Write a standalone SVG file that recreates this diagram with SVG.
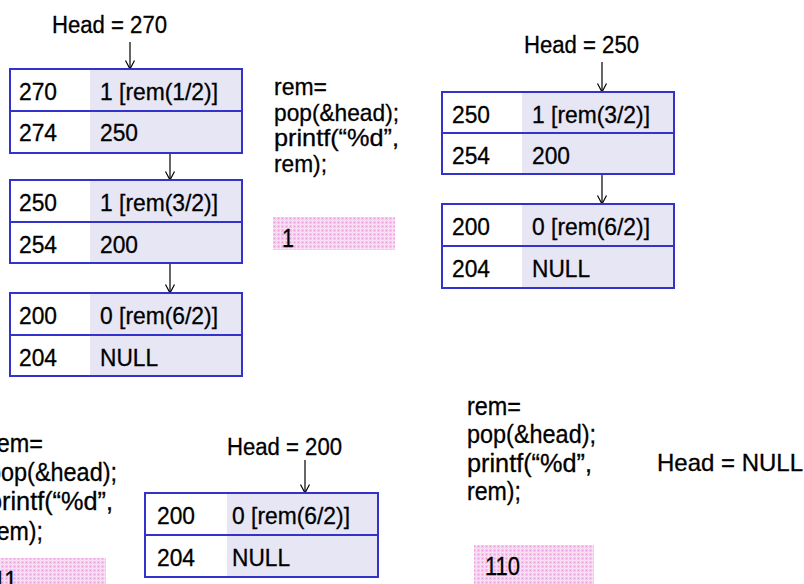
<svg xmlns="http://www.w3.org/2000/svg" width="804" height="584" viewBox="0 0 804 584">
  <defs>
    <style>
      text { font-family: "Liberation Sans", Arial, sans-serif; fill: #000; stroke: #000; stroke-width: 0.3; }
      .cell { font-size: 24px; }
      .head { font-size: 23px; }
      .hn { font-size: 24px; }
      .code { font-size: 24px; }
      .code2 { font-size: 25px; }
      .out { font-size: 26px; }
      .addr { fill: #ffffff; stroke: none; }
      .val { fill: #e6e6f4; stroke: none; }
      .frame { fill: none; stroke: #3333cc; stroke-width: 2; }
      .conn { fill: none; stroke: #000; stroke-width: 1.2; marker-end: url(#arr); }
    </style>
    <marker id="arr" markerUnits="userSpaceOnUse" markerWidth="14" markerHeight="14" viewBox="-12 -7 14 14" refX="0" refY="0" orient="auto">
      <path d="M-8.5,-4.5 L0,0 L-8.5,4.5" fill="none" stroke="#000" stroke-width="1.2"/>
    </marker>
    <pattern id="pink" width="4" height="4" patternUnits="userSpaceOnUse">
      <rect width="4" height="4" fill="#f3c6ec"/>
      <rect x="0" y="0" width="4" height="1" fill="#f9def5"/>
      <rect x="0" y="0" width="1" height="4" fill="#f9def5"/>
      <rect x="2" y="2" width="1" height="1" fill="#e49ad6"/>
    </pattern>
  </defs>

  <g id="connectors">
    <line class="conn" x1="130" y1="42" x2="130" y2="69"/>
    <line class="conn" x1="170" y1="131" x2="170" y2="180"/>
    <line class="conn" x1="170" y1="247" x2="170" y2="293"/>
    <line class="conn" x1="602" y1="62" x2="602" y2="92"/>
    <line class="conn" x1="602" y1="160" x2="602" y2="204"/>
    <line class="conn" x1="305" y1="460" x2="305" y2="493"/>
  </g>

  <g id="head270"><text class="head" x="52" y="33" textLength="115" lengthAdjust="spacingAndGlyphs">Head = 270</text></g>
  <g id="head250"><text class="head" x="524" y="53" textLength="115" lengthAdjust="spacingAndGlyphs">Head = 250</text></g>
  <g id="head200"><text class="head" x="227" y="455" textLength="115" lengthAdjust="spacingAndGlyphs">Head = 200</text></g>
  <g id="headnull"><text class="hn" x="657" y="471" textLength="146" lengthAdjust="spacingAndGlyphs">Head = NULL</text></g>

  <g id="node270">
    <rect class="addr" x="10" y="69" width="80" height="84"/>
    <rect class="val" x="90" y="69" width="152" height="84"/>
    <rect class="frame" x="10" y="69" width="232" height="84"/>
    <line class="frame" x1="10" y1="111" x2="242" y2="111"/>
    <text class="cell" x="19" y="100" textLength="38" lengthAdjust="spacingAndGlyphs">270</text>
    <text class="cell" x="100" y="100" textLength="118" lengthAdjust="spacingAndGlyphs">1 [rem(1/2)]</text>
    <text class="cell" x="19" y="141" textLength="38" lengthAdjust="spacingAndGlyphs">274</text>
    <text class="cell" x="100" y="141" textLength="38" lengthAdjust="spacingAndGlyphs">250</text>
  </g>

  <g id="node250a">
    <rect class="addr" x="10" y="180" width="80" height="83"/>
    <rect class="val" x="90" y="180" width="152" height="83"/>
    <rect class="frame" x="10" y="180" width="232" height="83"/>
    <line class="frame" x1="10" y1="222" x2="242" y2="222"/>
    <text class="cell" x="19" y="211" textLength="38" lengthAdjust="spacingAndGlyphs">250</text>
    <text class="cell" x="100" y="211" textLength="118" lengthAdjust="spacingAndGlyphs">1 [rem(3/2)]</text>
    <text class="cell" x="19" y="253" textLength="38" lengthAdjust="spacingAndGlyphs">254</text>
    <text class="cell" x="100" y="253" textLength="38" lengthAdjust="spacingAndGlyphs">200</text>
  </g>

  <g id="node200a">
    <rect class="addr" x="10" y="293" width="80" height="83"/>
    <rect class="val" x="90" y="293" width="152" height="83"/>
    <rect class="frame" x="10" y="293" width="232" height="83"/>
    <line class="frame" x1="10" y1="335" x2="242" y2="335"/>
    <text class="cell" x="19" y="324" textLength="38" lengthAdjust="spacingAndGlyphs">200</text>
    <text class="cell" x="100" y="324" textLength="118" lengthAdjust="spacingAndGlyphs">0 [rem(6/2)]</text>
    <text class="cell" x="19" y="366" textLength="38" lengthAdjust="spacingAndGlyphs">204</text>
    <text class="cell" x="100" y="366" textLength="58" lengthAdjust="spacingAndGlyphs">NULL</text>
  </g>

  <g id="node250b">
    <rect class="addr" x="442" y="92" width="80" height="82"/>
    <rect class="val" x="522" y="92" width="152" height="82"/>
    <rect class="frame" x="442" y="92" width="232" height="82"/>
    <line class="frame" x1="442" y1="133" x2="674" y2="133"/>
    <text class="cell" x="452" y="123" textLength="38" lengthAdjust="spacingAndGlyphs">250</text>
    <text class="cell" x="532" y="123" textLength="118" lengthAdjust="spacingAndGlyphs">1 [rem(3/2)]</text>
    <text class="cell" x="452" y="164" textLength="38" lengthAdjust="spacingAndGlyphs">254</text>
    <text class="cell" x="532" y="164" textLength="38" lengthAdjust="spacingAndGlyphs">200</text>
  </g>

  <g id="node200b">
    <rect class="addr" x="442" y="204" width="80" height="84"/>
    <rect class="val" x="522" y="204" width="152" height="84"/>
    <rect class="frame" x="442" y="204" width="232" height="84"/>
    <line class="frame" x1="442" y1="246" x2="674" y2="246"/>
    <text class="cell" x="452" y="235" textLength="38" lengthAdjust="spacingAndGlyphs">200</text>
    <text class="cell" x="532" y="235" textLength="118" lengthAdjust="spacingAndGlyphs">0 [rem(6/2)]</text>
    <text class="cell" x="452" y="277" textLength="38" lengthAdjust="spacingAndGlyphs">204</text>
    <text class="cell" x="532" y="277" textLength="58" lengthAdjust="spacingAndGlyphs">NULL</text>
  </g>

  <g id="node200c">
    <rect class="addr" x="145" y="493" width="82" height="84"/>
    <rect class="val" x="227" y="493" width="151" height="84"/>
    <rect class="frame" x="145" y="493" width="233" height="84"/>
    <line class="frame" x1="145" y1="535" x2="378" y2="535"/>
    <text class="cell" x="157" y="524" textLength="38" lengthAdjust="spacingAndGlyphs">200</text>
    <text class="cell" x="232" y="524" textLength="118" lengthAdjust="spacingAndGlyphs">0 [rem(6/2)]</text>
    <text class="cell" x="157" y="566" textLength="38" lengthAdjust="spacingAndGlyphs">204</text>
    <text class="cell" x="232" y="566" textLength="58" lengthAdjust="spacingAndGlyphs">NULL</text>
  </g>

  <g id="code1">
    <text class="code" x="274" y="95" textLength="53" lengthAdjust="spacingAndGlyphs">rem=</text>
    <text class="code" x="274" y="121" textLength="125" lengthAdjust="spacingAndGlyphs">pop(&amp;head);</text>
    <text class="code" x="274" y="146" textLength="125" lengthAdjust="spacingAndGlyphs">printf(“%d”,</text>
    <text class="code" x="274" y="172" textLength="53" lengthAdjust="spacingAndGlyphs">rem);</text>
  </g>
  <g id="out1">
    <rect x="273" y="217" width="122" height="33" fill="url(#pink)"/>
    <text class="out" x="282" y="247" textLength="12" lengthAdjust="spacingAndGlyphs">1</text>
  </g>

  <g id="code2">
    <text class="code2" x="-11" y="452" textLength="54" lengthAdjust="spacingAndGlyphs">rem=</text>
    <text class="code2" x="-12" y="481" textLength="129" lengthAdjust="spacingAndGlyphs">pop(&amp;head);</text>
    <text class="code2" x="-12" y="510" textLength="125" lengthAdjust="spacingAndGlyphs">printf(“%d”,</text>
    <text class="code2" x="-11" y="540" textLength="54" lengthAdjust="spacingAndGlyphs">rem);</text>
  </g>
  <g id="out2">
    <rect x="0" y="558" width="106" height="30" fill="url(#pink)"/>
    <text class="out" x="-7" y="589" textLength="24" lengthAdjust="spacingAndGlyphs">11</text>
  </g>

  <g id="code3">
    <text class="code2" x="467" y="415" textLength="54" lengthAdjust="spacingAndGlyphs">rem=</text>
    <text class="code2" x="467" y="443" textLength="129" lengthAdjust="spacingAndGlyphs">pop(&amp;head);</text>
    <text class="code2" x="467" y="472" textLength="125" lengthAdjust="spacingAndGlyphs">printf(“%d”,</text>
    <text class="code2" x="467" y="500" textLength="54" lengthAdjust="spacingAndGlyphs">rem);</text>
  </g>
  <g id="out3">
    <rect x="474" y="545" width="120" height="43" fill="url(#pink)"/>
    <text class="out" x="485" y="575" textLength="35" lengthAdjust="spacingAndGlyphs">110</text>
  </g>
</svg>
